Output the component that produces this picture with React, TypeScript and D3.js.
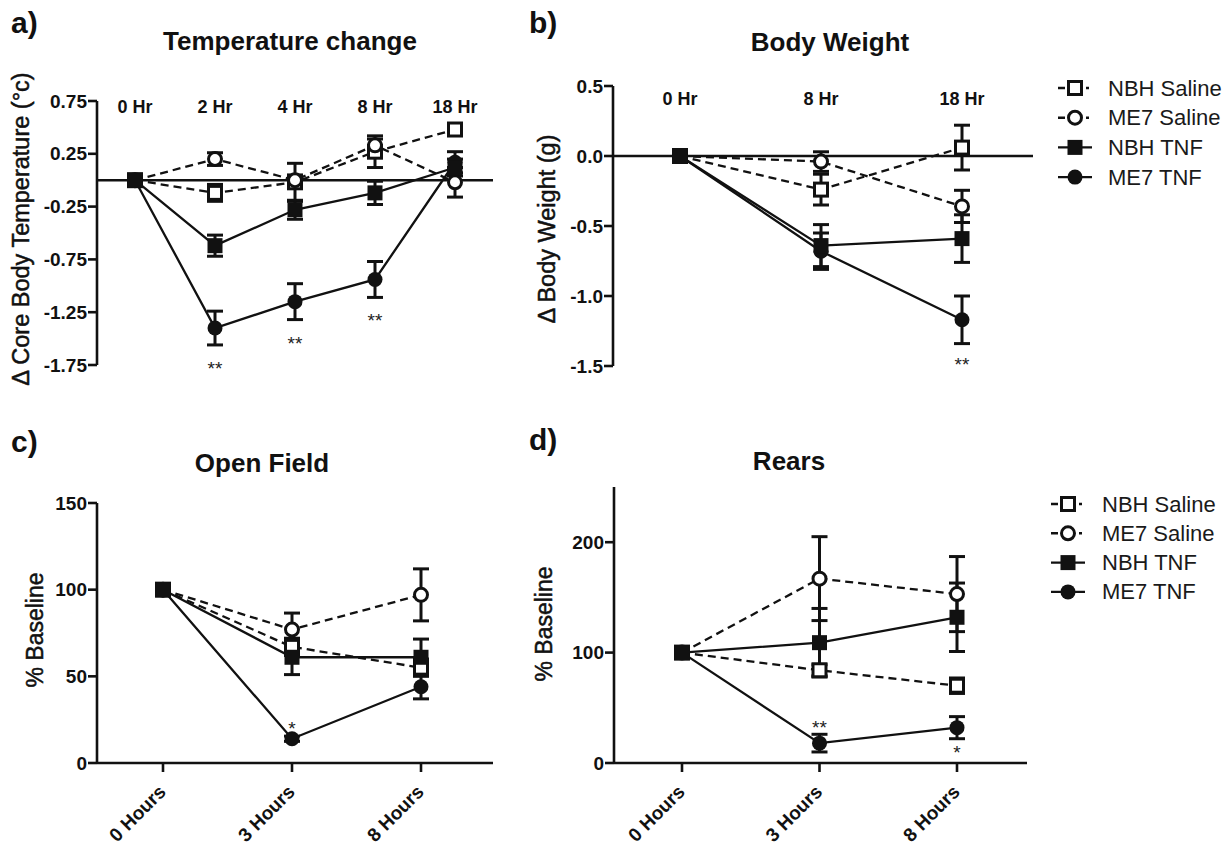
import React from 'react'
import * as d3 from 'd3'

const FONT = "'Liberation Sans', Arial, Helvetica, sans-serif"
const INK = '#111'

// ---- data ----
const seriesNames = ['NBH Saline', 'ME7 Saline', 'NBH TNF', 'ME7 TNF']

// a) Temperature change (deg C)
const tempHours = ['0 Hr', '2 Hr', '4 Hr', '8 Hr', '18 Hr']
const tempNbhSaline = [0, -0.12, -0.02, 0.27, 0.48]
const tempMe7Saline = [0, 0.2, 0.0, 0.33, -0.02]
const tempNbhTnf = [0, -0.62, -0.28, -0.12, 0.12]
const tempMe7Tnf = [0, -1.4, -1.15, -0.94, 0.17]
const tempNbhSalineErr = [0, 0.08, 0.18, 0.15, 0.04]
const tempMe7SalineErr = [0, 0.06, 0.05, 0.06, 0.14]
const tempNbhTnfErr = [0, 0.1, 0.09, 0.11, 0.08]
const tempMe7TnfErr = [0, 0.16, 0.17, 0.17, 0.1]
const tempTicks = [0.75, 0.25, -0.25, -0.75, -1.25, -1.75]

// b) Body weight (g)
const bwHours = ['0 Hr', '8 Hr', '18 Hr']
const bwNbhSaline = [0, -0.24, 0.06]
const bwMe7Saline = [0, -0.04, -0.36]
const bwNbhTnf = [0, -0.64, -0.59]
const bwMe7Tnf = [0, -0.68, -1.17]
const bwNbhSalineErr = [0, 0.11, 0.16]
const bwMe7SalineErr = [0, 0.07, 0.115]
const bwNbhTnfErr = [0, 0.15, 0.17]
const bwMe7TnfErr = [0, 0.13, 0.17]
const bwTicks = [0.5, 0, -0.5, -1, -1.5]

// c) Open field (% baseline)
const ofHours = ['0 Hours', '3 Hours', '8 Hours']
const ofNbhSaline = [100, 67, 55]
const ofMe7Saline = [100, 77, 97]
const ofNbhTnf = [100, 61, 61]
const ofMe7Tnf = [100, 14, 44]
const ofNbhSalineErr = [0, 5, 5]
const ofMe7SalineErr = [0, 9.5, 15]
const ofNbhTnfErr = [0, 10, 10.5]
const ofMe7TnfErr = [0, 1.5, 7]
const ofTicks = [0, 50, 100, 150]

// d) Rears (% baseline)
const rearHours = ['0 Hours', '3 Hours', '8 Hours']
const rearNbhSaline = [100, 84, 70]
const rearMe7Saline = [100, 167, 153]
const rearNbhTnf = [100, 109, 132]
const rearMe7Tnf = [100, 18, 32]
const rearNbhSalineErr = [0, 5, 7]
const rearMe7SalineErr = [0, 38, 34]
const rearNbhTnfErr = [0, 31, 31]
const rearMe7TnfErr = [0, 8, 10]
const rearTicks = [0, 100, 200]

// significance marks: category, series index, text, side of the error bar
const tempStars = [
  { cat: '2 Hr', s: 3, text: '**', side: 'below' },
  { cat: '4 Hr', s: 3, text: '**', side: 'below' },
  { cat: '8 Hr', s: 3, text: '**', side: 'below' },
]
const bwStars = [{ cat: '18 Hr', s: 3, text: '**', side: 'below' }]
const ofStars = [{ cat: '3 Hours', s: 3, text: '*', side: 'above' }]
const rearStars = [
  { cat: '3 Hours', s: 3, text: '**', side: 'above' },
  { cat: '8 Hours', s: 3, text: '*', side: 'below' },
]

const seriesStyle = [
  { shape: 'square', filled: false, dashed: true },
  { shape: 'circle', filled: false, dashed: true },
  { shape: 'square', filled: true, dashed: false },
  { shape: 'circle', filled: true, dashed: false },
]
// draw order so the filled square ends on top at the baseline point
const drawOrder = [0, 1, 3, 2]

const fmtMinus = (f: (n: number) => string) => (v: number) => f(v).replace('\u2212', '-')

const panels = [
  {
    label: 'a)', labelX: 11, labelY: 33,
    title: 'Temperature change', titleX: 290, titleY: 50,
    yTitle: '\u0394 Core Body Temperature (\u00b0c)', yTitleX: 21, yTitleY: 229, yTitleSize: 23.5,
    cats: tempHours,
    values: [tempNbhSaline, tempMe7Saline, tempNbhTnf, tempMe7Tnf],
    errors: [tempNbhSalineErr, tempMe7SalineErr, tempNbhTnfErr, tempMe7TnfErr],
    yDomain: [-1.75, 0.75], yTicks: tempTicks, fmt: fmtMinus(d3.format('.2f')),
    xRange: [135, 455], yRange: [365, 101], axisX: 97, lineEnd: 493,
    topLabels: true, topLabelY: 113, stars: tempStars, gapBelow: 20, gapAbove: 12,
  },
  {
    label: 'b)', labelX: 529, labelY: 33,
    title: 'Body Weight', titleX: 830, titleY: 51,
    yTitle: '\u0394 Body Weight (g)', yTitleX: 547, yTitleY: 229, yTitleSize: 23.5,
    cats: bwHours,
    values: [bwNbhSaline, bwMe7Saline, bwNbhTnf, bwMe7Tnf],
    errors: [bwNbhSalineErr, bwMe7SalineErr, bwNbhTnfErr, bwMe7TnfErr],
    yDomain: [-1.5, 0.5], yTicks: bwTicks, fmt: fmtMinus(d3.format('.1f')),
    xRange: [680, 962], yRange: [366, 86], axisX: 613, lineEnd: 1033,
    topLabels: true, topLabelY: 105, stars: bwStars, gapBelow: 17, gapAbove: 12,
  },
  {
    label: 'c)', labelX: 11, labelY: 452,
    title: 'Open Field', titleX: 262, titleY: 472,
    yTitle: '% Baseline', yTitleX: 35, yTitleY: 630, yTitleSize: 23,
    cats: ofHours,
    values: [ofNbhSaline, ofMe7Saline, ofNbhTnf, ofMe7Tnf],
    errors: [ofNbhSalineErr, ofMe7SalineErr, ofNbhTnfErr, ofMe7TnfErr],
    yDomain: [0, 150], yTicks: ofTicks, fmt: d3.format('d'),
    xRange: [163, 421], yRange: [763, 503], axisX: 97, lineEnd: 493,
    topLabels: false, topLabelY: 0, stars: ofStars, gapBelow: 10, gapAbove: 11,
  },
  {
    label: 'd)', labelX: 529, labelY: 450,
    title: 'Rears', titleX: 789, titleY: 470,
    yTitle: '% Baseline', yTitleX: 544, yTitleY: 624, yTitleSize: 23,
    cats: rearHours,
    values: [rearNbhSaline, rearMe7Saline, rearNbhTnf, rearMe7Tnf],
    errors: [rearNbhSalineErr, rearMe7SalineErr, rearNbhTnfErr, rearMe7TnfErr],
    yDomain: [0, 250], yTicks: rearTicks, fmt: d3.format('d'),
    xRange: [682, 957], yRange: [763, 487], axisX: 614, lineEnd: 1027,
    topLabels: false, topLabelY: 0, stars: rearStars, gapBelow: 10, gapAbove: 10,
  },
]

const legends = [
  { x: 1075, textX: 1108, y0: 88, step: 29.7 },
  { x: 1068, textX: 1102, y0: 504, step: 29.3 },
]

function Marker({ shape, filled, x, y }: { shape: string; filled: boolean; x: number; y: number }) {
  if (shape === 'square') {
    return filled
      ? <rect x={x - 7.5} y={y - 7.5} width={15} height={15} fill={INK} />
      : <rect x={x - 6.5} y={y - 6.5} width={13} height={13} fill="#fff" stroke={INK} strokeWidth={3} />
  }
  return filled
    ? <circle cx={x} cy={y} r={7.5} fill={INK} />
    : <circle cx={x} cy={y} r={6.5} fill="#fff" stroke={INK} strokeWidth={3} />
}

function Panel({ p }: { p: (typeof panels)[number] }) {
  const x = d3.scalePoint<string>().domain(p.cats).range(p.xRange as [number, number])
  const y = d3.scaleLinear().domain(p.yDomain).range(p.yRange)
  const y0 = y(p.yDomain[0] < 0 ? 0 : p.yDomain[0])
  const line = d3.line<number>().x((_, i) => x(p.cats[i])!).y(v => y(v))

  return (
    <g>
      <text x={p.labelX} y={p.labelY} fontSize={30} fontWeight="bold">{p.label}</text>
      <text x={p.titleX} y={p.titleY} fontSize={26} fontWeight="bold" textAnchor="middle">{p.title}</text>
      <text transform={`translate(${p.yTitleX},${p.yTitleY}) rotate(-90)`} fontSize={p.yTitleSize}
        textAnchor="middle" dominantBaseline="central" stroke={INK} strokeWidth={0.5}>{p.yTitle}</text>

      {/* y axis */}
      <line x1={p.axisX} x2={p.axisX} y1={y(p.yDomain[0])} y2={y(p.yDomain[1])} stroke={INK} strokeWidth={2.6} />
      {p.yTicks.map(t => (
        <g key={t}>
          <line x1={p.axisX - 9} x2={p.axisX} y1={y(t)} y2={y(t)} stroke={INK} strokeWidth={2.6} />
          <text x={p.axisX - 10} y={y(t)} fontSize={19} fontWeight="bold" textAnchor="end"
            dominantBaseline="central">{p.fmt(t)}</text>
        </g>
      ))}

      {/* zero line / x axis */}
      <line x1={p.axisX} x2={p.lineEnd} y1={y0} y2={y0} stroke={INK} strokeWidth={2.6} />
      {p.topLabels && p.cats.map(c => (
        <text key={c} x={x(c)} y={p.topLabelY} fontSize={18} fontWeight="bold" textAnchor="middle">{c}</text>
      ))}
      {!p.topLabels && p.cats.map(c => (
        <g key={c}>
          <line x1={x(c)} x2={x(c)} y1={y0} y2={y0 + 9} stroke={INK} strokeWidth={2.6} />
          <text transform={`translate(${x(c)! + 4},${y0 + 30}) rotate(-45)`} fontSize={19}
            fontWeight="bold" textAnchor="end">{c}</text>
        </g>
      ))}

      {/* series lines */}
      {drawOrder.map(s => (
        <path key={s} d={line(p.values[s])!} fill="none" stroke={INK} strokeWidth={2.3}
          strokeDasharray={seriesStyle[s].dashed ? '8,5' : undefined} />
      ))}

      {/* error bars */}
      {drawOrder.map(s => p.values[s].map((v, i) => {
        const e = p.errors[s][i]
        if (!e) return null
        const cx = x(p.cats[i])!
        return (
          <g key={`${s}-${i}`} stroke={INK} strokeWidth={3}>
            <line x1={cx} x2={cx} y1={y(v - e)} y2={y(v + e)} />
            <line x1={cx - 8} x2={cx + 8} y1={y(v - e)} y2={y(v - e)} />
            <line x1={cx - 8} x2={cx + 8} y1={y(v + e)} y2={y(v + e)} />
          </g>
        )
      }))}

      {/* markers */}
      {drawOrder.map(s => p.values[s].map((v, i) => (
        <Marker key={`${s}-${i}`} shape={seriesStyle[s].shape} filled={seriesStyle[s].filled}
          x={x(p.cats[i])!} y={y(v)} />
      )))}

      {/* significance */}
      {p.stars.map((st, k) => {
        const i = p.cats.indexOf(st.cat)
        const v = p.values[st.s][i]
        const e = p.errors[st.s][i]
        const cy = st.side === 'below' ? y(v - e) + p.gapBelow : y(v + e) - p.gapAbove
        return (
          <text key={k} x={x(st.cat)} y={cy + 10} fontSize={19} textAnchor="middle" fill="#222">{st.text}</text>
        )
      })}
    </g>
  )
}

function Legend({ l }: { l: (typeof legends)[number] }) {
  return (
    <g>
      {seriesNames.map((name, i) => {
        const cy = l.y0 + i * l.step
        const st = seriesStyle[i]
        return (
          <g key={name}>
            <line x1={l.x - 17} x2={st.dashed ? l.x + 14 : l.x + 17} y1={cy} y2={cy} stroke={INK} strokeWidth={2.4}
              strokeDasharray={st.dashed ? '7,21,3' : undefined} />
            <Marker shape={st.shape} filled={st.filled} x={l.x} y={cy} />
            <text x={l.textX} y={cy} fontSize={22} dominantBaseline="central" fill="#1a1a1a">{name}</text>
          </g>
        )
      })}
    </g>
  )
}

export default function App() {
  return (
    <svg width={1230} height={847} viewBox="0 0 1230 847"
      style={{ position: 'absolute', left: 0, top: 0, background: '#fff' }}
      fontFamily={FONT} fill={INK}>
      <rect width={1230} height={847} fill="#fff" />
      {panels.map(p => <Panel key={p.label} p={p} />)}
      {legends.map((l, i) => <Legend key={i} l={l} />)}
    </svg>
  )
}
